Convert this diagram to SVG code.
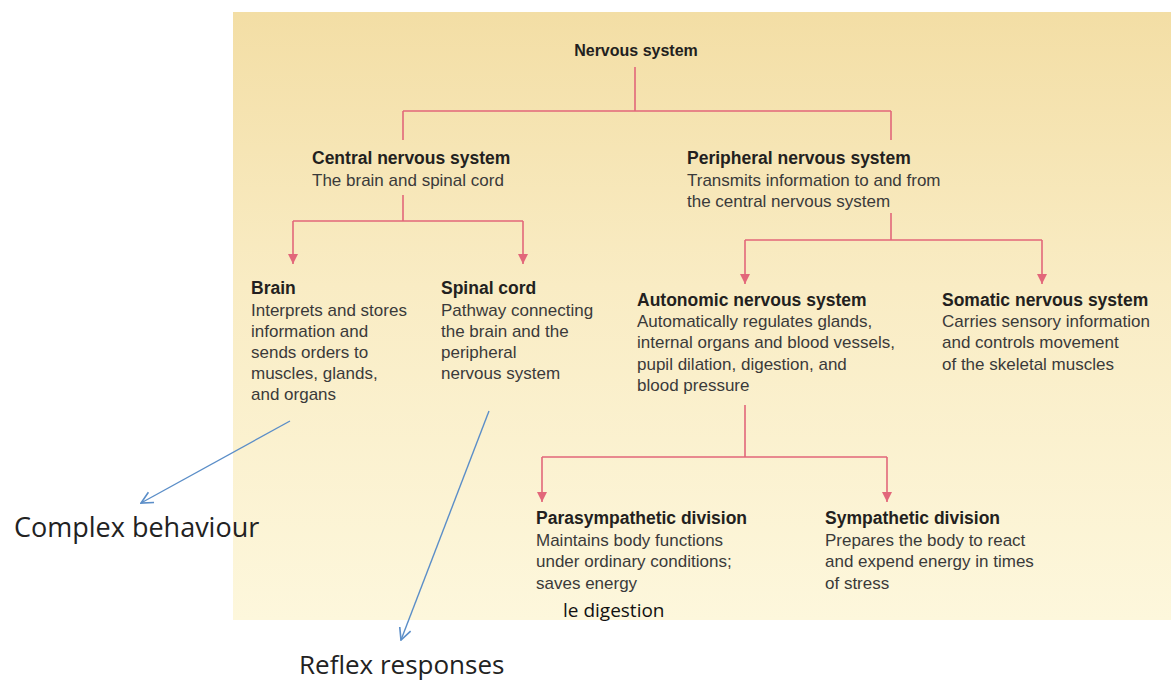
<svg xmlns="http://www.w3.org/2000/svg" width="1171" height="680" viewBox="0 0 1171 680">
<defs>
<linearGradient id="bg" x1="0" y1="0" x2="0" y2="1">
<stop offset="0" stop-color="#f3dea5"/>
<stop offset="0.45" stop-color="#f9ecc4"/>
<stop offset="1" stop-color="#fdf7dc"/>
</linearGradient>
<marker id="pk" viewBox="0 0 10 10" refX="10" refY="5" markerWidth="10" markerHeight="10" markerUnits="userSpaceOnUse" orient="auto">
<path d="M0,0 L10,5 L0,10 z" fill="#e2677a"/>
</marker>
<marker id="bl" viewBox="0 0 12 12" refX="11" refY="6" markerWidth="14" markerHeight="14" markerUnits="userSpaceOnUse" orient="auto">
<path d="M1,1 L11,6 L1,11" fill="none" stroke="#5b8ec8" stroke-width="1.4"/>
</marker>
<style>
.t{font-family:"Liberation Sans",Arial,sans-serif;font-size:17.5px;font-weight:bold;fill:#231f20}
.b{font-family:"Liberation Sans",Arial,sans-serif;font-size:17px;fill:#3a3a3a}
.big{font-family:"Open Sans","Liberation Sans",sans-serif;font-size:26px;fill:#222}
.note{font-family:"Open Sans","Liberation Sans",sans-serif;font-size:19px;fill:#111}
.pl{fill:none;stroke:#e2677a;stroke-width:1.6}
.bl{fill:none;stroke:#5b8ec8;stroke-width:1.4}
</style>
</defs>
<rect width="1171" height="680" fill="#ffffff"/>
<rect id="panel" x="233" y="12" width="938" height="608" fill="url(#bg)"/>

<g id="connectors">
<path class="pl" d="M635,67 V111 M403,111 H891 M403,111 V140 M891,111 V140"/>
<path class="pl" d="M403,195 V221 M293,221 H523"/>
<path class="pl" d="M293,221 V264" marker-end="url(#pk)"/>
<path class="pl" d="M523,221 V264" marker-end="url(#pk)"/>
<path class="pl" d="M891,213 V240 M745,240 H1042"/>
<path class="pl" d="M745,240 V284" marker-end="url(#pk)"/>
<path class="pl" d="M1042,240 V284" marker-end="url(#pk)"/>
<path class="pl" d="M745,405 V457 M542,457 H887"/>
<path class="pl" d="M542,457 V502" marker-end="url(#pk)"/>
<path class="pl" d="M887,457 V502" marker-end="url(#pk)"/>
<path class="bl" d="M290,421 L141,503" marker-end="url(#bl)"/>
<path class="bl" d="M489,411 L401,640" marker-end="url(#bl)"/>
</g>

<g id="n-nervous"><text class="t" x="636" y="56" text-anchor="middle" style="font-size:16px">Nervous system</text></g>
<g id="n-cns">
<text class="t" x="312" y="164">Central nervous system</text>
<text class="b" x="312" y="186">The brain and spinal cord</text>
</g>
<g id="n-pns">
<text class="t" x="687" y="164">Peripheral nervous system</text>
<text class="b" x="687" y="186">Transmits information to and from</text>
<text class="b" x="687" y="207">the central nervous system</text>
</g>
<g id="n-brain">
<text class="t" x="251" y="294">Brain</text>
<text class="b" x="251" y="316">Interprets and stores</text>
<text class="b" x="251" y="337">information and</text>
<text class="b" x="251" y="358">sends orders to</text>
<text class="b" x="251" y="379">muscles, glands,</text>
<text class="b" x="251" y="400">and organs</text>
</g>
<g id="n-spinal">
<text class="t" x="441" y="294">Spinal cord</text>
<text class="b" x="441" y="316">Pathway connecting</text>
<text class="b" x="441" y="337">the brain and the</text>
<text class="b" x="441" y="358">peripheral</text>
<text class="b" x="441" y="379">nervous system</text>
</g>
<g id="n-autonomic">
<text class="t" x="637" y="306">Autonomic nervous system</text>
<text class="b" x="637" y="327">Automatically regulates glands,</text>
<text class="b" x="637" y="348">internal organs and blood vessels,</text>
<text class="b" x="637" y="370">pupil dilation, digestion, and</text>
<text class="b" x="637" y="391">blood pressure</text>
</g>
<g id="n-somatic">
<text class="t" x="942" y="306">Somatic nervous system</text>
<text class="b" x="942" y="327">Carries sensory information</text>
<text class="b" x="942" y="348">and controls movement</text>
<text class="b" x="942" y="370">of the skeletal muscles</text>
</g>
<g id="n-para">
<text class="t" x="536" y="524">Parasympathetic division</text>
<text class="b" x="536" y="546">Maintains body functions</text>
<text class="b" x="536" y="567">under ordinary conditions;</text>
<text class="b" x="536" y="589">saves energy</text>
</g>
<g id="n-symp">
<text class="t" x="825" y="524">Sympathetic division</text>
<text class="b" x="825" y="546">Prepares the body to react</text>
<text class="b" x="825" y="567">and expend energy in times</text>
<text class="b" x="825" y="589">of stress</text>
</g>
<g id="n-digestion"><text class="note" x="563" y="617">le digestion</text></g>
<g id="n-complex"><text class="big" x="14" y="537" style="font-size:27px">Complex behaviour</text></g>
<g id="n-reflex"><text class="big" x="299" y="674">Reflex responses</text></g>
</svg>
